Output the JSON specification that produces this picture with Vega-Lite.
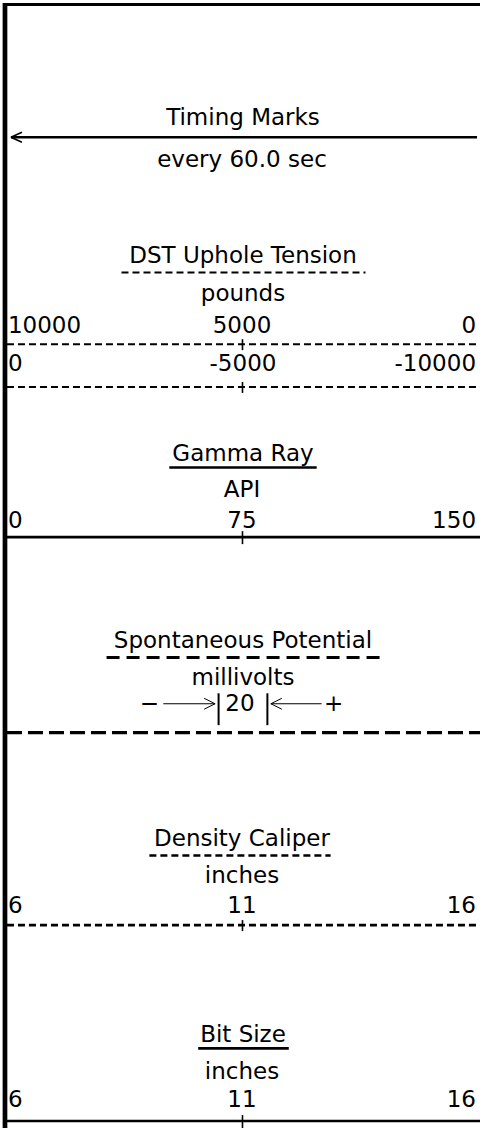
{
  "$schema": "https://vega.github.io/schema/vega-lite/v6.json",
  "width": 482,
  "height": 1131,
  "autosize": {"type": "fit", "contains": "padding"},
  "padding": 0,
  "background": "white",
  "config": {"view": {"stroke": null}},
  "datasets": {
    "lines": [
      {"x": 5, "x2": 5, "y": 0, "y2": 1131, "style": "frame"},
      {"x": 3, "x2": 482, "y": 1.5, "y2": 1.5, "style": "frameTop"},
      {"x": 11, "x2": 479, "y": 135, "y2": 135, "style": "solid"},
      {"x": 11, "x2": 22, "y": 135, "y2": 130, "style": "arm"},
      {"x": 11, "x2": 22, "y": 135, "y2": 140, "style": "arm"},
      {"x": 122, "x2": 367, "y": 271, "y2": 271, "style": "tension"},
      {"x": 7, "x2": 482, "y": 343, "y2": 343, "style": "tension"},
      {"x": 243.5, "x2": 243.5, "y": 338, "y2": 349, "style": "tick"},
      {"x": 7, "x2": 482, "y": 386, "y2": 386, "style": "tension"},
      {"x": 243.5, "x2": 243.5, "y": 381, "y2": 392, "style": "tick"},
      {"x": 170, "x2": 318, "y": 467, "y2": 467, "style": "solid"},
      {"x": 7, "x2": 482, "y": 537, "y2": 537, "style": "solid"},
      {"x": 243.5, "x2": 243.5, "y": 531, "y2": 544, "style": "tick"},
      {"x": 107, "x2": 383, "y": 658, "y2": 658, "style": "spUnder"},
      {"x": 164, "x2": 216, "y": 704.5, "y2": 704.5, "style": "hair"},
      {"x": 216, "x2": 205, "y": 704.5, "y2": 699, "style": "hair"},
      {"x": 216, "x2": 205, "y": 704.5, "y2": 710, "style": "hair"},
      {"x": 219.5, "x2": 219.5, "y": 694, "y2": 726, "style": "bar"},
      {"x": 268.5, "x2": 268.5, "y": 694, "y2": 726, "style": "bar"},
      {"x": 272, "x2": 323, "y": 704.5, "y2": 704.5, "style": "hair"},
      {"x": 272, "x2": 283, "y": 704.5, "y2": 699, "style": "hair"},
      {"x": 272, "x2": 283, "y": 704.5, "y2": 710, "style": "hair"},
      {"x": 7, "x2": 482, "y": 733.5, "y2": 733.5, "style": "sp"},
      {"x": 150, "x2": 332, "y": 857, "y2": 857, "style": "caliper"},
      {"x": 7, "x2": 482, "y": 927, "y2": 927, "style": "caliper"},
      {"x": 243.5, "x2": 243.5, "y": 922, "y2": 933, "style": "tick"},
      {"x": 199, "x2": 290, "y": 1051, "y2": 1051, "style": "solid"},
      {"x": 7, "x2": 482, "y": 1124, "y2": 1124, "style": "solid"},
      {"x": 243.5, "x2": 243.5, "y": 1118, "y2": 1131, "style": "tick"}
    ],
    "labels": [
      {"label": "Timing Marks", "x": 244, "y": 123, "anchor": "center"},
      {"label": "every 60.0 sec", "x": 243, "y": 165, "anchor": "center"},
      {"label": "DST Uphole Tension", "x": 244, "y": 261, "anchor": "center"},
      {"label": "pounds", "x": 244, "y": 300, "anchor": "center"},
      {"label": "10000", "x": 8, "y": 332, "anchor": "left"},
      {"label": "5000", "x": 243, "y": 332, "anchor": "center"},
      {"label": "0", "x": 478, "y": 332, "anchor": "right"},
      {"label": "0", "x": 8, "y": 370, "anchor": "left"},
      {"label": "-5000", "x": 244, "y": 370, "anchor": "center"},
      {"label": "-10000", "x": 478, "y": 370, "anchor": "right"},
      {"label": "Gamma Ray", "x": 244, "y": 460, "anchor": "center"},
      {"label": "API", "x": 243, "y": 497, "anchor": "center"},
      {"label": "0", "x": 8, "y": 528, "anchor": "left"},
      {"label": "75", "x": 243, "y": 528, "anchor": "center"},
      {"label": "150", "x": 478, "y": 528, "anchor": "right"},
      {"label": "Spontaneous Potential", "x": 244, "y": 648, "anchor": "center"},
      {"label": "millivolts", "x": 244, "y": 686, "anchor": "center"},
      {"label": "−", "x": 150, "y": 712, "anchor": "center"},
      {"label": "20", "x": 241, "y": 712, "anchor": "center"},
      {"label": "+", "x": 335, "y": 712, "anchor": "center"},
      {"label": "Density Caliper", "x": 243, "y": 847, "anchor": "center"},
      {"label": "inches", "x": 243, "y": 885, "anchor": "center"},
      {"label": "6", "x": 8, "y": 915, "anchor": "left"},
      {"label": "11", "x": 243, "y": 915, "anchor": "center"},
      {"label": "16", "x": 478, "y": 915, "anchor": "right"},
      {"label": "Bit Size", "x": 244, "y": 1045, "anchor": "center"},
      {"label": "inches", "x": 243, "y": 1082, "anchor": "center"},
      {"label": "6", "x": 8, "y": 1110, "anchor": "left"},
      {"label": "11", "x": 243, "y": 1110, "anchor": "center"},
      {"label": "16", "x": 478, "y": 1110, "anchor": "right"}
    ]
  },
  "encoding": {
    "x": {"field": "x", "type": "quantitative", "axis": null, "scale": {"domain": [0, 482], "nice": false, "zero": false}},
    "y": {"field": "y", "type": "quantitative", "axis": null, "scale": {"domain": [0, 1131], "nice": false, "zero": false, "reverse": true}}
  },
  "layer": [
    {"data": {"name": "lines"}, "transform": [{"filter": "datum.style === 'frame'"}],
     "mark": {"type": "rule", "color": "black", "strokeWidth": 4.7},
     "encoding": {"x2": {"field": "x2"}, "y2": {"field": "y2"}}},
    {"data": {"name": "lines"}, "transform": [{"filter": "datum.style === 'frameTop'"}],
     "mark": {"type": "rule", "color": "black", "strokeWidth": 3},
     "encoding": {"x2": {"field": "x2"}, "y2": {"field": "y2"}}},
    {"data": {"name": "lines"}, "transform": [{"filter": "datum.style === 'solid'"}],
     "mark": {"type": "rule", "color": "black", "strokeWidth": 2.6},
     "encoding": {"x2": {"field": "x2"}, "y2": {"field": "y2"}}},
    {"data": {"name": "lines"}, "transform": [{"filter": "datum.style === 'arm'"}],
     "mark": {"type": "rule", "color": "black", "strokeWidth": 1.6},
     "encoding": {"x2": {"field": "x2"}, "y2": {"field": "y2"}}},
    {"data": {"name": "lines"}, "transform": [{"filter": "datum.style === 'bar'"}],
     "mark": {"type": "rule", "color": "black", "strokeWidth": 2},
     "encoding": {"x2": {"field": "x2"}, "y2": {"field": "y2"}}},
    {"data": {"name": "lines"}, "transform": [{"filter": "datum.style === 'tick'"}],
     "mark": {"type": "rule", "color": "black", "strokeWidth": 1.6},
     "encoding": {"x2": {"field": "x2"}, "y2": {"field": "y2"}}},
    {"data": {"name": "lines"}, "transform": [{"filter": "datum.style === 'hair'"}],
     "mark": {"type": "rule", "color": "black", "strokeWidth": 1},
     "encoding": {"x2": {"field": "x2"}, "y2": {"field": "y2"}}},
    {"data": {"name": "lines"}, "transform": [{"filter": "datum.style === 'tension'"}],
     "mark": {"type": "rule", "color": "black", "strokeWidth": 2, "strokeDash": [7, 4]},
     "encoding": {"x2": {"field": "x2"}, "y2": {"field": "y2"}}},
    {"data": {"name": "lines"}, "transform": [{"filter": "datum.style === 'caliper'"}],
     "mark": {"type": "rule", "color": "black", "strokeWidth": 2.6, "strokeDash": [7, 4]},
     "encoding": {"x2": {"field": "x2"}, "y2": {"field": "y2"}}},
    {"data": {"name": "lines"}, "transform": [{"filter": "datum.style === 'spUnder'"}],
     "mark": {"type": "rule", "color": "black", "strokeWidth": 2.8, "strokeDash": [13, 7]},
     "encoding": {"x2": {"field": "x2"}, "y2": {"field": "y2"}}},
    {"data": {"name": "lines"}, "transform": [{"filter": "datum.style === 'sp'"}],
     "mark": {"type": "rule", "color": "black", "strokeWidth": 3.3, "strokeDash": [15, 6]},
     "encoding": {"x2": {"field": "x2"}, "y2": {"field": "y2"}}},
    {
      "data": {"name": "labels"},
      "transform": [{"filter": "datum.anchor === 'center'"}],
      "mark": {"type": "text", "align": "center", "baseline": "alphabetic", "font": "DejaVu Sans", "fontSize": 23, "color": "black"},
      "encoding": {"text": {"field": "label"}}
    },
    {
      "data": {"name": "labels"},
      "transform": [{"filter": "datum.anchor === 'left'"}],
      "mark": {"type": "text", "align": "left", "baseline": "alphabetic", "font": "DejaVu Sans", "fontSize": 23, "color": "black"},
      "encoding": {"text": {"field": "label"}}
    },
    {
      "data": {"name": "labels"},
      "transform": [{"filter": "datum.anchor === 'right'"}],
      "mark": {"type": "text", "align": "right", "baseline": "alphabetic", "font": "DejaVu Sans", "fontSize": 23, "color": "black"},
      "encoding": {"text": {"field": "label"}}
    }
  ]
}
